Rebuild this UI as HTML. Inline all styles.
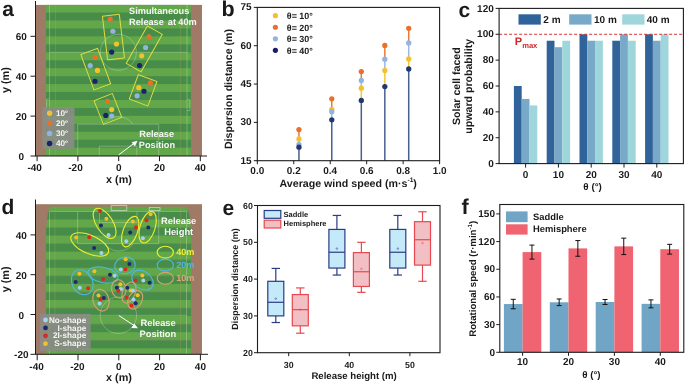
<!DOCTYPE html>
<html><head><meta charset="utf-8"><style>
html,body{margin:0;padding:0;background:#fff;width:685px;height:384px;overflow:hidden}
svg{display:block;will-change:transform}
text{font-family:"Liberation Sans", sans-serif;text-rendering:geometricPrecision}
</style></head><body>
<svg width="685" height="384" viewBox="0 0 685 384">
<defs>
<pattern id="stripeA" patternUnits="userSpaceOnUse" x="0" y="4.6" width="10" height="15.9">
<rect x="0" y="0" width="10" height="7.95" fill="#62a84a"/><rect x="0" y="7.95" width="10" height="7.95" fill="#488c4a"/></pattern>
<pattern id="stripeD" patternUnits="userSpaceOnUse" x="0" y="203.4" width="10" height="16.1">
<rect x="0" y="0" width="10" height="8.05" fill="#62a84a"/><rect x="0" y="8.05" width="10" height="8.05" fill="#488c4a"/></pattern>
</defs>
<text x="2.30" y="16.40" font-size="21" text-anchor="start" fill="#1a1a1a" font-weight="bold" >a</text>
<rect x="36.00" y="4.90" width="166.00" height="151.10" fill="#9f7a66" stroke="none" stroke-width="0" />
<rect x="46.00" y="4.90" width="145.00" height="151.10" fill="url(#stripeA)" stroke="none" stroke-width="0" />
<g stroke="rgba(225,240,220,0.38)" stroke-width="0.8" fill="none">
<line x1="49.5" y1="4.7" x2="49.5" y2="156"/>
<line x1="187" y1="4.7" x2="187" y2="156"/>
<line x1="49.5" y1="52.3" x2="187" y2="52.3"/>
<circle cx="118.3" cy="52.3" r="18"/>
<polyline points="77.7,156 77.7,124.2 158.7,124.2 158.7,156"/>
<polyline points="99.3,156 99.3,146.2 136.8,146.2 136.8,156"/>
<path d="M 103.6 124.2 A 18 18 0 0 1 133 124.2"/>
<polyline points="187,99.3 189.8,99.3 189.8,110.6 187,110.6"/>
<polyline points="49.5,99 46.6,99 46.6,110.3 49.5,110.3"/>
</g>
<line x1="55.5" y1="4.9" x2="55.5" y2="156" stroke="rgba(215,160,100,0.3)" stroke-width="0.8"/>
<line x1="180.3" y1="4.9" x2="180.3" y2="156" stroke="rgba(215,160,100,0.3)" stroke-width="0.8"/>
<rect x="-8.50" y="-22.00" width="17" height="44" fill="none" stroke="#e8e040" stroke-width="0.9" transform="translate(113.45,37.1) rotate(-6.8)"/>
<rect x="-8.55" y="-21.50" width="17.1" height="43" fill="none" stroke="#e8e040" stroke-width="0.9" transform="translate(144.25,48.9) rotate(29.5)"/>
<rect x="-8.90" y="-18.85" width="17.8" height="37.7" fill="none" stroke="#e8e040" stroke-width="0.9" transform="translate(95.75,69.2) rotate(-20.3)"/>
<rect x="-9.90" y="-13.05" width="19.8" height="26.1" fill="none" stroke="#e8e040" stroke-width="0.9" transform="translate(143.1,90.3) rotate(20.3)"/>
<rect x="-9.85" y="-12.80" width="19.7" height="25.6" fill="none" stroke="#e8e040" stroke-width="0.9" transform="translate(107.9,109) rotate(-21.7)"/>
<circle cx="110.20" cy="19.20" r="2.6" fill="#e8702a" stroke="none" stroke-width="0" />
<circle cx="112.90" cy="31.25" r="2.6" fill="#93b3e3" stroke="none" stroke-width="0" />
<circle cx="116.50" cy="44.00" r="2.6" fill="#f2c12e" stroke="none" stroke-width="0" />
<circle cx="111.70" cy="52.10" r="2.6" fill="#18236b" stroke="none" stroke-width="0" />
<circle cx="149.00" cy="36.90" r="2.6" fill="#e8702a" stroke="none" stroke-width="0" />
<circle cx="145.60" cy="47.50" r="2.6" fill="#93b3e3" stroke="none" stroke-width="0" />
<circle cx="141.70" cy="55.80" r="2.6" fill="#f2c12e" stroke="none" stroke-width="0" />
<circle cx="139.60" cy="65.60" r="2.6" fill="#18236b" stroke="none" stroke-width="0" />
<circle cx="95.00" cy="57.30" r="2.6" fill="#e8702a" stroke="none" stroke-width="0" />
<circle cx="90.20" cy="65.60" r="2.6" fill="#93b3e3" stroke="none" stroke-width="0" />
<circle cx="97.50" cy="70.40" r="2.6" fill="#f2c12e" stroke="none" stroke-width="0" />
<circle cx="95.00" cy="81.25" r="2.6" fill="#18236b" stroke="none" stroke-width="0" />
<circle cx="150.40" cy="82.90" r="2.6" fill="#e8702a" stroke="none" stroke-width="0" />
<circle cx="138.75" cy="87.70" r="2.6" fill="#f2c12e" stroke="none" stroke-width="0" />
<circle cx="144.00" cy="91.25" r="2.6" fill="#18236b" stroke="none" stroke-width="0" />
<circle cx="137.10" cy="95.80" r="2.6" fill="#93b3e3" stroke="none" stroke-width="0" />
<circle cx="107.50" cy="101.25" r="2.6" fill="#e8702a" stroke="none" stroke-width="0" />
<circle cx="111.70" cy="109.60" r="2.6" fill="#f2c12e" stroke="none" stroke-width="0" />
<circle cx="105.80" cy="115.40" r="2.6" fill="#18236b" stroke="none" stroke-width="0" />
<circle cx="111.70" cy="116.00" r="2.6" fill="#93b3e3" stroke="none" stroke-width="0" />
<rect x="42.30" y="107.00" width="32.20" height="41.70" fill="rgba(140,140,135,0.88)" stroke="none" stroke-width="0" />
<circle cx="49.60" cy="113.20" r="2.7" fill="#f2c12e" stroke="none" stroke-width="0" />
<text x="56.00" y="116.10" font-size="8.2" text-anchor="start" fill="#f2f2f2" font-weight="bold" >10<tspan font-size="4.6" dy="-3.4" font-style="italic">o</tspan></text>
<circle cx="49.60" cy="123.30" r="2.7" fill="#e8702a" stroke="none" stroke-width="0" />
<text x="56.00" y="126.20" font-size="8.2" text-anchor="start" fill="#f2f2f2" font-weight="bold" >20<tspan font-size="4.6" dy="-3.4" font-style="italic">o</tspan></text>
<circle cx="49.60" cy="133.40" r="2.7" fill="#93b3e3" stroke="none" stroke-width="0" />
<text x="56.00" y="136.30" font-size="8.2" text-anchor="start" fill="#f2f2f2" font-weight="bold" >30<tspan font-size="4.6" dy="-3.4" font-style="italic">o</tspan></text>
<circle cx="49.60" cy="143.50" r="2.7" fill="#18236b" stroke="none" stroke-width="0" />
<text x="56.00" y="146.40" font-size="8.2" text-anchor="start" fill="#f2f2f2" font-weight="bold" >40<tspan font-size="4.6" dy="-3.4" font-style="italic">o</tspan></text>
<text x="129.10" y="14.00" font-size="9.2" text-anchor="start" fill="#f6f6f6" font-weight="bold" >Simultaneous</text>
<text x="129.10" y="25.10" font-size="9.2" text-anchor="start" fill="#f6f6f6" font-weight="bold" >Release</text>
<text x="167.80" y="25.10" font-size="9.2" text-anchor="start" fill="#f6f6f6" font-weight="bold" >at</text>
<text x="178.30" y="25.10" font-size="9.2" text-anchor="start" fill="#f6f6f6" font-weight="bold" >40m</text>
<text x="139.30" y="136.70" font-size="9.2" text-anchor="start" fill="#f6f6f6" font-weight="bold" >Release</text>
<text x="138.80" y="147.70" font-size="9.2" text-anchor="start" fill="#f6f6f6" font-weight="bold" >Position</text>
<line x1="118.5" y1="155" x2="134.5" y2="143" stroke="#fff" stroke-width="1"/>
<path d="M 137.5 140.8 L 131.6 142.3 L 134.9 146.5 Z" fill="#fff"/>
<line x1="35.50" y1="1.00" x2="35.50" y2="156.30" stroke="#1c1c1c" stroke-width="1" />
<line x1="35.50" y1="156.00" x2="207.00" y2="156.00" stroke="#1c1c1c" stroke-width="1" />
<line x1="37.10" y1="156.00" x2="37.10" y2="161.20" stroke="#1c1c1c" stroke-width="1" />
<text x="34.70" y="170.50" font-size="10" text-anchor="middle" fill="#1a1a1a" font-weight="bold" >-40</text>
<line x1="77.90" y1="156.00" x2="77.90" y2="161.20" stroke="#1c1c1c" stroke-width="1" />
<text x="75.50" y="170.50" font-size="10" text-anchor="middle" fill="#1a1a1a" font-weight="bold" >-20</text>
<line x1="118.70" y1="156.00" x2="118.70" y2="161.20" stroke="#1c1c1c" stroke-width="1" />
<text x="118.70" y="170.50" font-size="10" text-anchor="middle" fill="#1a1a1a" font-weight="bold" >0</text>
<line x1="159.50" y1="156.00" x2="159.50" y2="161.20" stroke="#1c1c1c" stroke-width="1" />
<text x="159.50" y="170.50" font-size="10" text-anchor="middle" fill="#1a1a1a" font-weight="bold" >20</text>
<line x1="200.30" y1="156.00" x2="200.30" y2="161.20" stroke="#1c1c1c" stroke-width="1" />
<text x="200.30" y="170.50" font-size="10" text-anchor="middle" fill="#1a1a1a" font-weight="bold" >40</text>
<line x1="30.50" y1="156.00" x2="35.50" y2="156.00" stroke="#1c1c1c" stroke-width="1" />
<text x="21.30" y="160.00" font-size="10" text-anchor="middle" fill="#1a1a1a" font-weight="bold" >0</text>
<line x1="30.50" y1="116.10" x2="35.50" y2="116.10" stroke="#1c1c1c" stroke-width="1" />
<text x="21.30" y="120.10" font-size="10" text-anchor="middle" fill="#1a1a1a" font-weight="bold" >20</text>
<line x1="30.50" y1="76.20" x2="35.50" y2="76.20" stroke="#1c1c1c" stroke-width="1" />
<text x="21.30" y="80.20" font-size="10" text-anchor="middle" fill="#1a1a1a" font-weight="bold" >40</text>
<line x1="30.50" y1="36.30" x2="35.50" y2="36.30" stroke="#1c1c1c" stroke-width="1" />
<text x="21.30" y="40.30" font-size="10" text-anchor="middle" fill="#1a1a1a" font-weight="bold" >60</text>
<text x="119.00" y="182.60" font-size="10.8" text-anchor="middle" fill="#1a1a1a" font-weight="bold" >x (m)</text>
<text transform="translate(9,80.1) rotate(-90)" font-size="10.8" text-anchor="middle" font-weight="bold" fill="#1a1a1a">y (m)</text>
<text x="221.60" y="16.30" font-size="21.5" text-anchor="start" fill="#1a1a1a" font-weight="bold" >b</text>
<line x1="298.96" y1="160.70" x2="298.96" y2="147.16" stroke="#47608f" stroke-width="1.5" />
<line x1="298.96" y1="147.16" x2="298.96" y2="144.35" stroke="#9bb8e6" stroke-width="1.5" />
<line x1="298.96" y1="144.35" x2="298.96" y2="138.98" stroke="#f2c53c" stroke-width="1.5" />
<line x1="298.96" y1="138.98" x2="298.96" y2="129.53" stroke="#e97a38" stroke-width="1.5" />
<circle cx="298.96" cy="129.53" r="2.65" fill="#e8702a" stroke="none" stroke-width="0" />
<circle cx="298.96" cy="138.98" r="2.65" fill="#f2c12e" stroke="none" stroke-width="0" />
<circle cx="298.96" cy="144.35" r="2.65" fill="#93b3e3" stroke="none" stroke-width="0" />
<circle cx="298.96" cy="147.16" r="2.65" fill="#1f3870" stroke="none" stroke-width="0" />
<line x1="331.78" y1="160.70" x2="331.78" y2="119.82" stroke="#47608f" stroke-width="1.5" />
<line x1="331.78" y1="119.82" x2="331.78" y2="111.64" stroke="#9bb8e6" stroke-width="1.5" />
<line x1="331.78" y1="111.64" x2="331.78" y2="109.34" stroke="#f2c53c" stroke-width="1.5" />
<line x1="331.78" y1="109.34" x2="331.78" y2="98.87" stroke="#e97a38" stroke-width="1.5" />
<circle cx="331.78" cy="98.87" r="2.65" fill="#e8702a" stroke="none" stroke-width="0" />
<circle cx="331.78" cy="109.34" r="2.65" fill="#f2c12e" stroke="none" stroke-width="0" />
<circle cx="331.78" cy="111.64" r="2.65" fill="#93b3e3" stroke="none" stroke-width="0" />
<circle cx="331.78" cy="119.82" r="2.65" fill="#1f3870" stroke="none" stroke-width="0" />
<line x1="361.31" y1="160.70" x2="361.31" y2="100.40" stroke="#47608f" stroke-width="1.5" />
<line x1="361.31" y1="100.40" x2="361.31" y2="88.14" stroke="#f2c53c" stroke-width="1.5" />
<line x1="361.31" y1="88.14" x2="361.31" y2="80.47" stroke="#9bb8e6" stroke-width="1.5" />
<line x1="361.31" y1="80.47" x2="361.31" y2="71.53" stroke="#e97a38" stroke-width="1.5" />
<circle cx="361.31" cy="71.53" r="2.65" fill="#e8702a" stroke="none" stroke-width="0" />
<circle cx="361.31" cy="80.47" r="2.65" fill="#93b3e3" stroke="none" stroke-width="0" />
<circle cx="361.31" cy="88.14" r="2.65" fill="#f2c12e" stroke="none" stroke-width="0" />
<circle cx="361.31" cy="100.40" r="2.65" fill="#1f3870" stroke="none" stroke-width="0" />
<line x1="384.83" y1="160.70" x2="384.83" y2="86.60" stroke="#47608f" stroke-width="1.5" />
<line x1="384.83" y1="86.60" x2="384.83" y2="70.51" stroke="#f2c53c" stroke-width="1.5" />
<line x1="384.83" y1="70.51" x2="384.83" y2="59.27" stroke="#9bb8e6" stroke-width="1.5" />
<line x1="384.83" y1="59.27" x2="384.83" y2="45.47" stroke="#e97a38" stroke-width="1.5" />
<circle cx="384.83" cy="45.47" r="2.65" fill="#e8702a" stroke="none" stroke-width="0" />
<circle cx="384.83" cy="59.27" r="2.65" fill="#93b3e3" stroke="none" stroke-width="0" />
<circle cx="384.83" cy="70.51" r="2.65" fill="#f2c12e" stroke="none" stroke-width="0" />
<circle cx="384.83" cy="86.60" r="2.65" fill="#1f3870" stroke="none" stroke-width="0" />
<line x1="408.71" y1="160.70" x2="408.71" y2="68.98" stroke="#47608f" stroke-width="1.5" />
<line x1="408.71" y1="68.98" x2="408.71" y2="59.01" stroke="#f2c53c" stroke-width="1.5" />
<line x1="408.71" y1="59.01" x2="408.71" y2="42.91" stroke="#9bb8e6" stroke-width="1.5" />
<line x1="408.71" y1="42.91" x2="408.71" y2="28.35" stroke="#e97a38" stroke-width="1.5" />
<circle cx="408.71" cy="28.35" r="2.65" fill="#e8702a" stroke="none" stroke-width="0" />
<circle cx="408.71" cy="42.91" r="2.65" fill="#93b3e3" stroke="none" stroke-width="0" />
<circle cx="408.71" cy="59.01" r="2.65" fill="#f2c12e" stroke="none" stroke-width="0" />
<circle cx="408.71" cy="68.98" r="2.65" fill="#1f3870" stroke="none" stroke-width="0" />
<rect x="257.3" y="7.4" width="182.3" height="153.29999999999998" fill="none" stroke="#1c1c1c" stroke-width="1.1"/>
<line x1="257.30" y1="160.70" x2="257.30" y2="164.20" stroke="#1c1c1c" stroke-width="1" />
<text x="257.30" y="173.90" font-size="10" text-anchor="middle" fill="#1a1a1a" font-weight="bold" >0.0</text>
<line x1="293.76" y1="160.70" x2="293.76" y2="164.20" stroke="#1c1c1c" stroke-width="1" />
<text x="293.76" y="173.90" font-size="10" text-anchor="middle" fill="#1a1a1a" font-weight="bold" >0.2</text>
<line x1="330.22" y1="160.70" x2="330.22" y2="164.20" stroke="#1c1c1c" stroke-width="1" />
<text x="330.22" y="173.90" font-size="10" text-anchor="middle" fill="#1a1a1a" font-weight="bold" >0.4</text>
<line x1="366.68" y1="160.70" x2="366.68" y2="164.20" stroke="#1c1c1c" stroke-width="1" />
<text x="366.68" y="173.90" font-size="10" text-anchor="middle" fill="#1a1a1a" font-weight="bold" >0.6</text>
<line x1="403.14" y1="160.70" x2="403.14" y2="164.20" stroke="#1c1c1c" stroke-width="1" />
<text x="403.14" y="173.90" font-size="10" text-anchor="middle" fill="#1a1a1a" font-weight="bold" >0.8</text>
<line x1="439.60" y1="160.70" x2="439.60" y2="164.20" stroke="#1c1c1c" stroke-width="1" />
<text x="439.60" y="173.90" font-size="10" text-anchor="middle" fill="#1a1a1a" font-weight="bold" >1.0</text>
<line x1="253.80" y1="160.70" x2="257.30" y2="160.70" stroke="#1c1c1c" stroke-width="1" />
<text x="251.70" y="163.70" font-size="10" text-anchor="end" fill="#1a1a1a" font-weight="bold" >15</text>
<line x1="253.80" y1="122.38" x2="257.30" y2="122.38" stroke="#1c1c1c" stroke-width="1" />
<text x="251.70" y="125.38" font-size="10" text-anchor="end" fill="#1a1a1a" font-weight="bold" >30</text>
<line x1="253.80" y1="84.05" x2="257.30" y2="84.05" stroke="#1c1c1c" stroke-width="1" />
<text x="251.70" y="87.05" font-size="10" text-anchor="end" fill="#1a1a1a" font-weight="bold" >45</text>
<line x1="253.80" y1="45.73" x2="257.30" y2="45.73" stroke="#1c1c1c" stroke-width="1" />
<text x="251.70" y="48.73" font-size="10" text-anchor="end" fill="#1a1a1a" font-weight="bold" >60</text>
<line x1="253.80" y1="7.40" x2="257.30" y2="7.40" stroke="#1c1c1c" stroke-width="1" />
<text x="251.70" y="10.40" font-size="10" text-anchor="end" fill="#1a1a1a" font-weight="bold" >75</text>
<text x="348.20" y="186.60" font-size="10.65" text-anchor="middle" fill="#1a1a1a" font-weight="bold" >Average wind speed (m·s<tspan font-size="6.6" dy="-4.2">-1</tspan><tspan dy="4.2">)</tspan></text>
<text transform="translate(232,89) rotate(-90)" font-size="10.6" text-anchor="middle" font-weight="bold" fill="#1a1a1a">Dispersion distance (m)</text>
<circle cx="275.40" cy="15.70" r="2.6" fill="#f2c12e" stroke="none" stroke-width="0" />
<text x="286.80" y="19.00" font-size="8.95" text-anchor="start" fill="#1a1a1a" font-weight="bold" >θ= 10°</text>
<circle cx="275.40" cy="27.25" r="2.6" fill="#e8702a" stroke="none" stroke-width="0" />
<text x="286.80" y="30.55" font-size="8.95" text-anchor="start" fill="#1a1a1a" font-weight="bold" >θ= 20°</text>
<circle cx="275.40" cy="38.80" r="2.6" fill="#93b3e3" stroke="none" stroke-width="0" />
<text x="286.80" y="42.10" font-size="8.95" text-anchor="start" fill="#1a1a1a" font-weight="bold" >θ= 30°</text>
<circle cx="275.40" cy="50.35" r="2.6" fill="#161e68" stroke="none" stroke-width="0" />
<text x="286.80" y="53.65" font-size="8.95" text-anchor="start" fill="#1a1a1a" font-weight="bold" >θ= 40°</text>
<text x="458.60" y="16.80" font-size="21" text-anchor="start" fill="#1a1a1a" font-weight="bold" >c</text>
<rect x="513.90" y="86.00" width="7.80" height="77.60" fill="#2f6399" stroke="none" stroke-width="0" />
<rect x="521.70" y="98.93" width="7.80" height="64.67" fill="#78a9c9" stroke="none" stroke-width="0" />
<rect x="529.50" y="105.40" width="7.80" height="58.20" fill="#9ed6dc" stroke="none" stroke-width="0" />
<line x1="525.60" y1="163.60" x2="525.60" y2="167.60" stroke="#1c1c1c" stroke-width="1" />
<text x="525.60" y="177.80" font-size="10" text-anchor="middle" fill="#1a1a1a" font-weight="bold" >0</text>
<rect x="546.70" y="40.73" width="7.80" height="122.87" fill="#2f6399" stroke="none" stroke-width="0" />
<rect x="554.50" y="47.20" width="7.80" height="116.40" fill="#78a9c9" stroke="none" stroke-width="0" />
<rect x="562.30" y="40.73" width="7.80" height="122.87" fill="#9ed6dc" stroke="none" stroke-width="0" />
<line x1="558.40" y1="163.60" x2="558.40" y2="167.60" stroke="#1c1c1c" stroke-width="1" />
<text x="558.40" y="177.80" font-size="10" text-anchor="middle" fill="#1a1a1a" font-weight="bold" >10</text>
<rect x="579.50" y="34.27" width="7.80" height="129.33" fill="#2f6399" stroke="none" stroke-width="0" />
<rect x="587.30" y="40.73" width="7.80" height="122.87" fill="#78a9c9" stroke="none" stroke-width="0" />
<rect x="595.10" y="40.73" width="7.80" height="122.87" fill="#9ed6dc" stroke="none" stroke-width="0" />
<line x1="591.20" y1="163.60" x2="591.20" y2="167.60" stroke="#1c1c1c" stroke-width="1" />
<text x="591.20" y="177.80" font-size="10" text-anchor="middle" fill="#1a1a1a" font-weight="bold" >20</text>
<rect x="612.30" y="40.73" width="7.80" height="122.87" fill="#2f6399" stroke="none" stroke-width="0" />
<rect x="620.10" y="34.27" width="7.80" height="129.33" fill="#78a9c9" stroke="none" stroke-width="0" />
<rect x="627.90" y="40.73" width="7.80" height="122.87" fill="#9ed6dc" stroke="none" stroke-width="0" />
<line x1="624.00" y1="163.60" x2="624.00" y2="167.60" stroke="#1c1c1c" stroke-width="1" />
<text x="624.00" y="177.80" font-size="10" text-anchor="middle" fill="#1a1a1a" font-weight="bold" >30</text>
<rect x="645.10" y="34.27" width="7.80" height="129.33" fill="#2f6399" stroke="none" stroke-width="0" />
<rect x="652.90" y="40.73" width="7.80" height="122.87" fill="#78a9c9" stroke="none" stroke-width="0" />
<rect x="660.70" y="34.27" width="7.80" height="129.33" fill="#9ed6dc" stroke="none" stroke-width="0" />
<line x1="656.80" y1="163.60" x2="656.80" y2="167.60" stroke="#1c1c1c" stroke-width="1" />
<text x="656.80" y="177.80" font-size="10" text-anchor="middle" fill="#1a1a1a" font-weight="bold" >40</text>
<line x1="499.10" y1="34.27" x2="683.40" y2="34.27" stroke="#d83434" stroke-width="1.0" stroke-dasharray="3,2"/>
<rect x="499.1" y="8.4" width="184.29999999999995" height="155.2" fill="none" stroke="#1c1c1c" stroke-width="1.1"/>
<line x1="495.60" y1="163.60" x2="499.10" y2="163.60" stroke="#1c1c1c" stroke-width="1" />
<text x="493.80" y="166.70" font-size="10" text-anchor="end" fill="#1a1a1a" font-weight="bold" >0</text>
<line x1="495.60" y1="137.73" x2="499.10" y2="137.73" stroke="#1c1c1c" stroke-width="1" />
<text x="493.80" y="140.83" font-size="10" text-anchor="end" fill="#1a1a1a" font-weight="bold" >20</text>
<line x1="495.60" y1="111.87" x2="499.10" y2="111.87" stroke="#1c1c1c" stroke-width="1" />
<text x="493.80" y="114.97" font-size="10" text-anchor="end" fill="#1a1a1a" font-weight="bold" >40</text>
<line x1="495.60" y1="86.00" x2="499.10" y2="86.00" stroke="#1c1c1c" stroke-width="1" />
<text x="493.80" y="89.10" font-size="10" text-anchor="end" fill="#1a1a1a" font-weight="bold" >60</text>
<line x1="495.60" y1="60.13" x2="499.10" y2="60.13" stroke="#1c1c1c" stroke-width="1" />
<text x="493.80" y="63.23" font-size="10" text-anchor="end" fill="#1a1a1a" font-weight="bold" >80</text>
<line x1="495.60" y1="34.27" x2="499.10" y2="34.27" stroke="#1c1c1c" stroke-width="1" />
<text x="493.80" y="37.37" font-size="10" text-anchor="end" fill="#1a1a1a" font-weight="bold" >100</text>
<line x1="495.60" y1="8.40" x2="499.10" y2="8.40" stroke="#1c1c1c" stroke-width="1" />
<text x="493.80" y="11.50" font-size="10" text-anchor="end" fill="#1a1a1a" font-weight="bold" >120</text>
<text x="514.80" y="45.30" font-size="11" text-anchor="start" fill="#d42828" font-weight="bold" >P<tspan font-size="7.6" dy="2.4">max</tspan></text>
<rect x="518.50" y="14.30" width="22.30" height="10.30" fill="#2f6399" stroke="none" stroke-width="0" />
<text x="543.30" y="23.30" font-size="10" text-anchor="start" fill="#1a1a1a" font-weight="bold" >2 m</text>
<rect x="569.20" y="14.30" width="22.30" height="10.30" fill="#78a9c9" stroke="none" stroke-width="0" />
<text x="594.00" y="23.30" font-size="10" text-anchor="start" fill="#1a1a1a" font-weight="bold" >10 m</text>
<rect x="622.20" y="14.30" width="22.30" height="10.30" fill="#9ed6dc" stroke="none" stroke-width="0" />
<text x="646.80" y="23.30" font-size="10" text-anchor="start" fill="#1a1a1a" font-weight="bold" >40 m</text>
<text x="592.60" y="189.90" font-size="9.8" text-anchor="middle" fill="#1a1a1a" font-weight="bold" >θ (°)</text>
<text transform="translate(460,86.2) rotate(-90)" font-size="10.6" text-anchor="middle" font-weight="bold" fill="#1a1a1a">Solar cell faced</text>
<text transform="translate(471.6,86.3) rotate(-90)" font-size="10.6" text-anchor="middle" font-weight="bold" fill="#1a1a1a">upward probability</text>
<text x="1.60" y="213.90" font-size="21" text-anchor="start" fill="#1a1a1a" font-weight="bold" >d</text>
<rect x="36.00" y="204.20" width="166.00" height="150.10" fill="#9f7a66" stroke="none" stroke-width="0" />
<path d="M 46 354.3 L 46 232 Q 47 212 50.2 206.8 L 186.8 206.8 Q 190 212 191 232 L 191 354.3 Z" fill="url(#stripeD)"/>
<g stroke="rgba(225,240,220,0.38)" stroke-width="0.8" fill="none">
<line x1="49.5" y1="211.5" x2="49.5" y2="354.3"/>
<line x1="186.5" y1="211.5" x2="186.5" y2="354.3"/>
<line x1="49.5" y1="211.5" x2="186.5" y2="211.5"/>
<line x1="49.5" y1="315.3" x2="186.5" y2="315.3"/>
<circle cx="118.4" cy="315.3" r="18.2"/>
<polyline points="77.6,211.5 77.6,243.6 158.7,243.6 158.7,211.5"/>
<polyline points="99.5,211.5 99.5,222.6 137,222.6 137,211.5"/>
<path d="M 104.2 243.6 A 18 18 0 0 0 133.4 243.6"/>
<rect x="111.2" y="205.6" width="15.6" height="4.8" stroke="rgba(230,235,230,0.7)"/>
<rect x="149.2" y="207.6" width="10.8" height="3" stroke="rgba(230,235,230,0.7)"/>
<line x1="55" y1="207" x2="55" y2="354.3" stroke="rgba(215,160,100,0.3)" stroke-width="0.8"/>
<line x1="180.6" y1="207" x2="180.6" y2="354.3" stroke="rgba(215,160,100,0.3)" stroke-width="0.8"/>
</g>
<ellipse cx="0" cy="0" rx="17" ry="8.3" fill="none" stroke="#eef032" stroke-width="1.1" transform="translate(104.6,223.4) rotate(58)"/>
<ellipse cx="0" cy="0" rx="20.3" ry="9.1" fill="none" stroke="#eef032" stroke-width="1.1" transform="translate(89.7,244.5) rotate(24)"/>
<ellipse cx="0" cy="0" rx="16" ry="7.2" fill="none" stroke="#eef032" stroke-width="1.1" transform="translate(130.2,231.6) rotate(-70)"/>
<ellipse cx="0" cy="0" rx="16.3" ry="7.6" fill="none" stroke="#eef032" stroke-width="1.1" transform="translate(147.6,227.2) rotate(-73)"/>
<ellipse cx="0" cy="0" rx="13.0" ry="10.3" fill="none" stroke="#4db8e2" stroke-width="1.1" transform="translate(82.3,282.3) rotate(62)"/>
<ellipse cx="0" cy="0" rx="15.3" ry="7.6" fill="none" stroke="#4db8e2" stroke-width="1.1" transform="translate(102.9,275.0) rotate(12)"/>
<ellipse cx="0" cy="0" rx="10.3" ry="8.2" fill="none" stroke="#4db8e2" stroke-width="1.1" transform="translate(125,265.4) rotate(-10)"/>
<ellipse cx="0" cy="0" rx="11.8" ry="8.6" fill="none" stroke="#4db8e2" stroke-width="1.1" transform="translate(142.5,280.1) rotate(38)"/>
<ellipse cx="0" cy="0" rx="11" ry="8" fill="none" stroke="#d9a272" stroke-width="1.1" transform="translate(101,300.1) rotate(75)"/>
<ellipse cx="0" cy="0" rx="9.2" ry="7.2" fill="none" stroke="#d9a272" stroke-width="1.1" transform="translate(118.8,288.9) rotate(80)"/>
<ellipse cx="0" cy="0" rx="11" ry="6.3" fill="none" stroke="#d9a272" stroke-width="1.1" transform="translate(128.9,292.5) rotate(-68)"/>
<ellipse cx="0" cy="0" rx="9.8" ry="6.8" fill="none" stroke="#d9a272" stroke-width="1.1" transform="translate(135.2,299.8) rotate(-62)"/>
<circle cx="100.00" cy="210.90" r="2.0" fill="#d92a20" stroke="none" stroke-width="0" />
<circle cx="106.40" cy="218.80" r="2.0" fill="#f2c02a" stroke="none" stroke-width="0" />
<circle cx="101.00" cy="225.50" r="2.0" fill="#1b2a6b" stroke="none" stroke-width="0" />
<circle cx="108.50" cy="235.10" r="2.0" fill="#a8d0f0" stroke="none" stroke-width="0" />
<circle cx="76.20" cy="237.60" r="2.0" fill="#f2c02a" stroke="none" stroke-width="0" />
<circle cx="89.30" cy="237.20" r="2.0" fill="#d92a20" stroke="none" stroke-width="0" />
<circle cx="94.10" cy="248.00" r="2.0" fill="#1b2a6b" stroke="none" stroke-width="0" />
<circle cx="101.40" cy="253.00" r="2.0" fill="#a8d0f0" stroke="none" stroke-width="0" />
<circle cx="132.90" cy="221.50" r="2.0" fill="#f2c02a" stroke="none" stroke-width="0" />
<circle cx="136.00" cy="227.20" r="2.0" fill="#d92a20" stroke="none" stroke-width="0" />
<circle cx="130.20" cy="232.40" r="2.0" fill="#1b2a6b" stroke="none" stroke-width="0" />
<circle cx="126.25" cy="241.30" r="2.0" fill="#a8d0f0" stroke="none" stroke-width="0" />
<circle cx="150.60" cy="214.25" r="2.0" fill="#f2c02a" stroke="none" stroke-width="0" />
<circle cx="146.50" cy="220.30" r="2.0" fill="#d92a20" stroke="none" stroke-width="0" />
<circle cx="148.30" cy="227.60" r="2.0" fill="#1b2a6b" stroke="none" stroke-width="0" />
<circle cx="142.90" cy="238.20" r="2.0" fill="#a8d0f0" stroke="none" stroke-width="0" />
<circle cx="79.40" cy="273.75" r="2.0" fill="#f2c02a" stroke="none" stroke-width="0" />
<circle cx="75.60" cy="282.10" r="2.0" fill="#1b2a6b" stroke="none" stroke-width="0" />
<circle cx="79.80" cy="287.70" r="2.0" fill="#a8d0f0" stroke="none" stroke-width="0" />
<circle cx="88.10" cy="288.30" r="2.0" fill="#d92a20" stroke="none" stroke-width="0" />
<circle cx="94.40" cy="271.25" r="2.0" fill="#f2c02a" stroke="none" stroke-width="0" />
<circle cx="110.00" cy="274.80" r="2.0" fill="#1b2a6b" stroke="none" stroke-width="0" />
<circle cx="114.60" cy="275.80" r="2.0" fill="#a8d0f0" stroke="none" stroke-width="0" />
<circle cx="103.10" cy="279.00" r="2.0" fill="#d92a20" stroke="none" stroke-width="0" />
<circle cx="125.60" cy="259.20" r="2.0" fill="#f2c02a" stroke="none" stroke-width="0" />
<circle cx="129.40" cy="264.00" r="2.0" fill="#1b2a6b" stroke="none" stroke-width="0" />
<circle cx="120.80" cy="269.60" r="2.0" fill="#a8d0f0" stroke="none" stroke-width="0" />
<circle cx="125.40" cy="269.20" r="2.0" fill="#d92a20" stroke="none" stroke-width="0" />
<circle cx="142.30" cy="275.40" r="2.0" fill="#f2c02a" stroke="none" stroke-width="0" />
<circle cx="135.40" cy="280.40" r="2.0" fill="#d92a20" stroke="none" stroke-width="0" />
<circle cx="143.30" cy="280.40" r="2.0" fill="#a8d0f0" stroke="none" stroke-width="0" />
<circle cx="149.60" cy="282.70" r="2.0" fill="#1b2a6b" stroke="none" stroke-width="0" />
<circle cx="98.50" cy="295.60" r="2.0" fill="#f2c02a" stroke="none" stroke-width="0" />
<circle cx="103.75" cy="298.10" r="2.0" fill="#1b2a6b" stroke="none" stroke-width="0" />
<circle cx="100.60" cy="299.40" r="2.0" fill="#d92a20" stroke="none" stroke-width="0" />
<circle cx="99.60" cy="303.50" r="2.0" fill="#a8d0f0" stroke="none" stroke-width="0" />
<circle cx="120.40" cy="284.20" r="2.0" fill="#f2c02a" stroke="none" stroke-width="0" />
<circle cx="116.90" cy="287.70" r="2.0" fill="#1b2a6b" stroke="none" stroke-width="0" />
<circle cx="121.00" cy="289.00" r="2.0" fill="#a8d0f0" stroke="none" stroke-width="0" />
<circle cx="118.30" cy="290.80" r="2.0" fill="#d92a20" stroke="none" stroke-width="0" />
<circle cx="127.30" cy="287.70" r="2.0" fill="#1b2a6b" stroke="none" stroke-width="0" />
<circle cx="130.80" cy="290.40" r="2.0" fill="#f2c02a" stroke="none" stroke-width="0" />
<circle cx="132.90" cy="290.40" r="2.0" fill="#a8d0f0" stroke="none" stroke-width="0" />
<circle cx="126.70" cy="297.70" r="2.0" fill="#d92a20" stroke="none" stroke-width="0" />
<circle cx="137.70" cy="295.20" r="2.0" fill="#f2c02a" stroke="none" stroke-width="0" />
<circle cx="133.50" cy="299.40" r="2.0" fill="#a8d0f0" stroke="none" stroke-width="0" />
<circle cx="135.60" cy="303.30" r="2.0" fill="#1b2a6b" stroke="none" stroke-width="0" />
<circle cx="131.50" cy="305.40" r="2.0" fill="#d92a20" stroke="none" stroke-width="0" />
<ellipse cx="165.3" cy="252.2" rx="8.1" ry="5.9" fill="none" stroke="#eef032" stroke-width="1.1"/>
<text x="176.20" y="254.90" font-size="9.1" text-anchor="start" fill="#eef032" font-weight="bold" >40m</text>
<ellipse cx="165.3" cy="265" rx="8.1" ry="5.9" fill="none" stroke="#4db8e2" stroke-width="1.1"/>
<text x="176.20" y="267.70" font-size="9.1" text-anchor="start" fill="#4db8e2" font-weight="bold" >20m</text>
<ellipse cx="165.3" cy="278.3" rx="8.1" ry="5.9" fill="none" stroke="#d9a272" stroke-width="1.1"/>
<text x="176.20" y="281.00" font-size="9.1" text-anchor="start" fill="#e0a878" font-weight="bold" >10m</text>
<text x="178.70" y="224.00" font-size="9.3" text-anchor="middle" fill="#f6f6f6" font-weight="bold" >Release</text>
<text x="178.70" y="235.00" font-size="9.3" text-anchor="middle" fill="#f6f6f6" font-weight="bold" >Height</text>
<text x="140.50" y="325.80" font-size="9.3" text-anchor="start" fill="#f6f6f6" font-weight="bold" >Release</text>
<text x="139.50" y="337.20" font-size="9.3" text-anchor="start" fill="#f6f6f6" font-weight="bold" >Position</text>
<line x1="118.8" y1="315.5" x2="134.5" y2="325.8" stroke="#fff" stroke-width="1"/>
<path d="M 138 328.2 L 131.4 327.9 L 134.2 323.4 Z" fill="#fff"/>
<rect x="40.00" y="313.90" width="50.60" height="36.90" fill="rgba(140,140,135,0.88)" stroke="none" stroke-width="0" />
<circle cx="45.50" cy="320.00" r="2.4" fill="#a8d0f0" stroke="none" stroke-width="0" />
<text x="86.20" y="322.60" font-size="8.2" text-anchor="end" fill="#f4f4f4" font-weight="bold" >No-shape</text>
<circle cx="45.50" cy="327.90" r="2.4" fill="#1b2a6b" stroke="none" stroke-width="0" />
<text x="86.20" y="330.50" font-size="8.2" text-anchor="end" fill="#f4f4f4" font-weight="bold" >I-shape</text>
<circle cx="45.50" cy="335.80" r="2.4" fill="#d92a20" stroke="none" stroke-width="0" />
<text x="86.20" y="338.40" font-size="8.2" text-anchor="end" fill="#f4f4f4" font-weight="bold" >2I-shape</text>
<circle cx="45.50" cy="343.70" r="2.4" fill="#f2c02a" stroke="none" stroke-width="0" />
<text x="86.20" y="346.30" font-size="8.2" text-anchor="end" fill="#f4f4f4" font-weight="bold" >S-shape</text>
<line x1="35.50" y1="199.50" x2="35.50" y2="354.60" stroke="#1c1c1c" stroke-width="1" />
<line x1="35.50" y1="354.30" x2="208.00" y2="354.30" stroke="#1c1c1c" stroke-width="1" />
<line x1="37.20" y1="354.30" x2="37.20" y2="360.30" stroke="#1c1c1c" stroke-width="1" />
<text x="36.60" y="370.20" font-size="10" text-anchor="middle" fill="#1a1a1a" font-weight="bold" >-40</text>
<line x1="78.00" y1="354.30" x2="78.00" y2="360.30" stroke="#1c1c1c" stroke-width="1" />
<text x="77.40" y="370.20" font-size="10" text-anchor="middle" fill="#1a1a1a" font-weight="bold" >-20</text>
<line x1="118.80" y1="354.30" x2="118.80" y2="360.30" stroke="#1c1c1c" stroke-width="1" />
<text x="118.80" y="370.20" font-size="10" text-anchor="middle" fill="#1a1a1a" font-weight="bold" >0</text>
<line x1="159.60" y1="354.30" x2="159.60" y2="360.30" stroke="#1c1c1c" stroke-width="1" />
<text x="159.60" y="370.20" font-size="10" text-anchor="middle" fill="#1a1a1a" font-weight="bold" >20</text>
<line x1="200.40" y1="354.30" x2="200.40" y2="360.30" stroke="#1c1c1c" stroke-width="1" />
<text x="200.40" y="370.20" font-size="10" text-anchor="middle" fill="#1a1a1a" font-weight="bold" >40</text>
<line x1="30.50" y1="354.30" x2="35.50" y2="354.30" stroke="#1c1c1c" stroke-width="1" />
<text x="21.30" y="358.30" font-size="10" text-anchor="middle" fill="#1a1a1a" font-weight="bold" >-20</text>
<line x1="30.50" y1="314.50" x2="35.50" y2="314.50" stroke="#1c1c1c" stroke-width="1" />
<text x="21.30" y="318.50" font-size="10" text-anchor="middle" fill="#1a1a1a" font-weight="bold" >0</text>
<line x1="30.50" y1="274.70" x2="35.50" y2="274.70" stroke="#1c1c1c" stroke-width="1" />
<text x="21.30" y="278.70" font-size="10" text-anchor="middle" fill="#1a1a1a" font-weight="bold" >20</text>
<line x1="30.50" y1="234.90" x2="35.50" y2="234.90" stroke="#1c1c1c" stroke-width="1" />
<text x="21.30" y="238.90" font-size="10" text-anchor="middle" fill="#1a1a1a" font-weight="bold" >40</text>
<text x="119.00" y="380.50" font-size="10.8" text-anchor="middle" fill="#1a1a1a" font-weight="bold" >x (m)</text>
<text transform="translate(8.8,279.4) rotate(-90)" font-size="10.8" text-anchor="middle" font-weight="bold" fill="#1a1a1a">y (m)</text>
<text x="222.40" y="214.50" font-size="21" text-anchor="start" fill="#1a1a1a" font-weight="bold" >e</text>
<line x1="275.80" y1="268.43" x2="275.80" y2="281.31" stroke="#2b3b84" stroke-width="1.2" />
<line x1="275.80" y1="315.90" x2="275.80" y2="322.52" stroke="#2b3b84" stroke-width="1.2" />
<line x1="271.60" y1="268.43" x2="280.00" y2="268.43" stroke="#2b3b84" stroke-width="1.2" />
<line x1="271.60" y1="322.52" x2="280.00" y2="322.52" stroke="#2b3b84" stroke-width="1.2" />
<rect x="267.80" y="281.31" width="16.00" height="34.59" fill="#c4e9f9" stroke="#2b3b84" stroke-width="1.2" />
<line x1="267.80" y1="302.28" x2="283.80" y2="302.28" stroke="#2b3b84" stroke-width="1.2" />
<circle cx="275.80" cy="298.60" r="0.8" fill="none" stroke="#2b3b84" stroke-width="0.5" />
<line x1="300.30" y1="287.93" x2="300.30" y2="294.56" stroke="#e8484f" stroke-width="1.2" />
<line x1="300.30" y1="325.84" x2="300.30" y2="333.20" stroke="#e8484f" stroke-width="1.2" />
<line x1="296.10" y1="287.93" x2="304.50" y2="287.93" stroke="#e8484f" stroke-width="1.2" />
<line x1="296.10" y1="333.20" x2="304.50" y2="333.20" stroke="#e8484f" stroke-width="1.2" />
<rect x="292.30" y="294.56" width="16.00" height="31.28" fill="#f2bfc4" stroke="#e8484f" stroke-width="1.2" />
<line x1="292.30" y1="309.64" x2="308.30" y2="309.64" stroke="#e8484f" stroke-width="1.2" />
<circle cx="300.30" cy="309.64" r="0.8" fill="none" stroke="#e8484f" stroke-width="0.5" />
<line x1="336.90" y1="215.44" x2="336.90" y2="229.42" stroke="#2b3b84" stroke-width="1.2" />
<line x1="336.90" y1="268.06" x2="336.90" y2="275.05" stroke="#2b3b84" stroke-width="1.2" />
<line x1="332.70" y1="215.44" x2="341.10" y2="215.44" stroke="#2b3b84" stroke-width="1.2" />
<line x1="332.70" y1="275.05" x2="341.10" y2="275.05" stroke="#2b3b84" stroke-width="1.2" />
<rect x="328.90" y="229.42" width="16.00" height="38.64" fill="#c4e9f9" stroke="#2b3b84" stroke-width="1.2" />
<line x1="328.90" y1="252.24" x2="344.90" y2="252.24" stroke="#2b3b84" stroke-width="1.2" />
<circle cx="336.90" cy="248.56" r="0.8" fill="none" stroke="#2b3b84" stroke-width="0.5" />
<line x1="361.40" y1="242.30" x2="361.40" y2="252.60" stroke="#e8484f" stroke-width="1.2" />
<line x1="361.40" y1="286.46" x2="361.40" y2="292.35" stroke="#e8484f" stroke-width="1.2" />
<line x1="357.20" y1="242.30" x2="365.60" y2="242.30" stroke="#e8484f" stroke-width="1.2" />
<line x1="357.20" y1="292.35" x2="365.60" y2="292.35" stroke="#e8484f" stroke-width="1.2" />
<rect x="353.40" y="252.60" width="16.00" height="33.86" fill="#f2bfc4" stroke="#e8484f" stroke-width="1.2" />
<line x1="353.40" y1="271.74" x2="369.40" y2="271.74" stroke="#e8484f" stroke-width="1.2" />
<circle cx="361.40" cy="268.80" r="0.8" fill="none" stroke="#e8484f" stroke-width="0.5" />
<line x1="397.80" y1="215.44" x2="397.80" y2="229.42" stroke="#2b3b84" stroke-width="1.2" />
<line x1="397.80" y1="268.06" x2="397.80" y2="275.05" stroke="#2b3b84" stroke-width="1.2" />
<line x1="393.60" y1="215.44" x2="402.00" y2="215.44" stroke="#2b3b84" stroke-width="1.2" />
<line x1="393.60" y1="275.05" x2="402.00" y2="275.05" stroke="#2b3b84" stroke-width="1.2" />
<rect x="389.80" y="229.42" width="16.00" height="38.64" fill="#c4e9f9" stroke="#2b3b84" stroke-width="1.2" />
<line x1="389.80" y1="252.24" x2="405.80" y2="252.24" stroke="#2b3b84" stroke-width="1.2" />
<circle cx="397.80" cy="248.56" r="0.8" fill="none" stroke="#2b3b84" stroke-width="0.5" />
<line x1="422.50" y1="211.76" x2="422.50" y2="221.69" stroke="#e8484f" stroke-width="1.2" />
<line x1="422.50" y1="265.12" x2="422.50" y2="281.31" stroke="#e8484f" stroke-width="1.2" />
<line x1="418.30" y1="211.76" x2="426.70" y2="211.76" stroke="#e8484f" stroke-width="1.2" />
<line x1="418.30" y1="281.31" x2="426.70" y2="281.31" stroke="#e8484f" stroke-width="1.2" />
<rect x="414.50" y="221.69" width="16.00" height="43.42" fill="#f2bfc4" stroke="#e8484f" stroke-width="1.2" />
<line x1="414.50" y1="239.72" x2="430.50" y2="239.72" stroke="#e8484f" stroke-width="1.2" />
<circle cx="422.50" cy="243.04" r="0.8" fill="none" stroke="#e8484f" stroke-width="0.5" />
<rect x="257.5" y="205.5" width="182.5" height="147.2" fill="none" stroke="#1c1c1c" stroke-width="1.1"/>
<line x1="288.70" y1="352.70" x2="288.70" y2="356.20" stroke="#1c1c1c" stroke-width="1" />
<text x="288.70" y="368.20" font-size="8.8" text-anchor="middle" fill="#1a1a1a" font-weight="bold" >30</text>
<line x1="349.30" y1="352.70" x2="349.30" y2="356.20" stroke="#1c1c1c" stroke-width="1" />
<text x="349.30" y="368.20" font-size="8.8" text-anchor="middle" fill="#1a1a1a" font-weight="bold" >40</text>
<line x1="409.90" y1="352.70" x2="409.90" y2="356.20" stroke="#1c1c1c" stroke-width="1" />
<text x="409.90" y="368.20" font-size="8.8" text-anchor="middle" fill="#1a1a1a" font-weight="bold" >50</text>
<line x1="254.00" y1="352.70" x2="257.50" y2="352.70" stroke="#1c1c1c" stroke-width="1" />
<text x="252.90" y="355.80" font-size="8.8" text-anchor="end" fill="#1a1a1a" font-weight="bold" >20</text>
<line x1="254.00" y1="315.90" x2="257.50" y2="315.90" stroke="#1c1c1c" stroke-width="1" />
<text x="252.90" y="319.00" font-size="8.8" text-anchor="end" fill="#1a1a1a" font-weight="bold" >30</text>
<line x1="254.00" y1="279.10" x2="257.50" y2="279.10" stroke="#1c1c1c" stroke-width="1" />
<text x="252.90" y="282.20" font-size="8.8" text-anchor="end" fill="#1a1a1a" font-weight="bold" >40</text>
<line x1="254.00" y1="242.30" x2="257.50" y2="242.30" stroke="#1c1c1c" stroke-width="1" />
<text x="252.90" y="245.40" font-size="8.8" text-anchor="end" fill="#1a1a1a" font-weight="bold" >50</text>
<line x1="254.00" y1="205.50" x2="257.50" y2="205.50" stroke="#1c1c1c" stroke-width="1" />
<text x="252.90" y="208.60" font-size="8.8" text-anchor="end" fill="#1a1a1a" font-weight="bold" >60</text>
<text x="354.10" y="378.80" font-size="9.6" text-anchor="middle" fill="#1a1a1a" font-weight="bold" >Release height (m)</text>
<text transform="translate(238,279) rotate(-90)" font-size="8.95" text-anchor="middle" font-weight="bold" fill="#1a1a1a">Dispersion distance (m)</text>
<rect x="264.20" y="210.50" width="16.60" height="7.80" fill="#c4e9f9" stroke="#2b3b84" stroke-width="1.2" />
<rect x="264.20" y="220.20" width="16.60" height="7.80" fill="#f2bfc4" stroke="#e8484f" stroke-width="1.2" />
<text x="283.60" y="216.80" font-size="7.5" text-anchor="start" fill="#1a1a1a" font-weight="bold" >Saddle</text>
<text x="283.60" y="226.40" font-size="7.5" text-anchor="start" fill="#1a1a1a" font-weight="bold" >Hemisphere</text>
<text x="461.40" y="213.50" font-size="21.5" text-anchor="start" fill="#1a1a1a" font-weight="bold" >f</text>
<rect x="503.90" y="304.04" width="18.70" height="48.26" fill="#70a5c6" stroke="none" stroke-width="0" />
<rect x="522.60" y="252.09" width="18.70" height="100.21" fill="#ef6470" stroke="none" stroke-width="0" />
<line x1="513.25" y1="299.34" x2="513.25" y2="308.75" stroke="#111" stroke-width="1" />
<line x1="510.75" y1="299.34" x2="515.75" y2="299.34" stroke="#111" stroke-width="1" />
<line x1="510.75" y1="308.75" x2="515.75" y2="308.75" stroke="#111" stroke-width="1" />
<line x1="531.95" y1="245.08" x2="531.95" y2="259.11" stroke="#111" stroke-width="1" />
<line x1="529.45" y1="245.08" x2="534.45" y2="245.08" stroke="#111" stroke-width="1" />
<line x1="529.45" y1="259.11" x2="534.45" y2="259.11" stroke="#111" stroke-width="1" />
<line x1="522.60" y1="352.30" x2="522.60" y2="355.80" stroke="#1c1c1c" stroke-width="1" />
<text x="522.60" y="365.20" font-size="10" text-anchor="middle" fill="#1a1a1a" font-weight="bold" >10</text>
<rect x="549.80" y="302.29" width="18.70" height="50.01" fill="#70a5c6" stroke="none" stroke-width="0" />
<rect x="568.50" y="248.40" width="18.70" height="103.90" fill="#ef6470" stroke="none" stroke-width="0" />
<line x1="559.15" y1="298.97" x2="559.15" y2="305.61" stroke="#111" stroke-width="1" />
<line x1="556.65" y1="298.97" x2="561.65" y2="298.97" stroke="#111" stroke-width="1" />
<line x1="556.65" y1="305.61" x2="561.65" y2="305.61" stroke="#111" stroke-width="1" />
<line x1="577.85" y1="240.56" x2="577.85" y2="256.25" stroke="#111" stroke-width="1" />
<line x1="575.35" y1="240.56" x2="580.35" y2="240.56" stroke="#111" stroke-width="1" />
<line x1="575.35" y1="256.25" x2="580.35" y2="256.25" stroke="#111" stroke-width="1" />
<line x1="568.50" y1="352.30" x2="568.50" y2="355.80" stroke="#1c1c1c" stroke-width="1" />
<text x="568.50" y="365.20" font-size="10" text-anchor="middle" fill="#1a1a1a" font-weight="bold" >20</text>
<rect x="595.70" y="302.01" width="18.70" height="50.29" fill="#70a5c6" stroke="none" stroke-width="0" />
<rect x="614.40" y="246.37" width="18.70" height="105.93" fill="#ef6470" stroke="none" stroke-width="0" />
<line x1="605.05" y1="299.52" x2="605.05" y2="304.50" stroke="#111" stroke-width="1" />
<line x1="602.55" y1="299.52" x2="607.55" y2="299.52" stroke="#111" stroke-width="1" />
<line x1="602.55" y1="304.50" x2="607.55" y2="304.50" stroke="#111" stroke-width="1" />
<line x1="623.75" y1="238.16" x2="623.75" y2="254.59" stroke="#111" stroke-width="1" />
<line x1="621.25" y1="238.16" x2="626.25" y2="238.16" stroke="#111" stroke-width="1" />
<line x1="621.25" y1="254.59" x2="626.25" y2="254.59" stroke="#111" stroke-width="1" />
<line x1="614.40" y1="352.30" x2="614.40" y2="355.80" stroke="#1c1c1c" stroke-width="1" />
<text x="614.40" y="365.20" font-size="10" text-anchor="middle" fill="#1a1a1a" font-weight="bold" >30</text>
<rect x="641.60" y="303.86" width="18.70" height="48.44" fill="#70a5c6" stroke="none" stroke-width="0" />
<rect x="660.30" y="249.23" width="18.70" height="103.07" fill="#ef6470" stroke="none" stroke-width="0" />
<line x1="650.95" y1="299.89" x2="650.95" y2="307.83" stroke="#111" stroke-width="1" />
<line x1="648.45" y1="299.89" x2="653.45" y2="299.89" stroke="#111" stroke-width="1" />
<line x1="648.45" y1="307.83" x2="653.45" y2="307.83" stroke="#111" stroke-width="1" />
<line x1="669.65" y1="244.34" x2="669.65" y2="254.12" stroke="#111" stroke-width="1" />
<line x1="667.15" y1="244.34" x2="672.15" y2="244.34" stroke="#111" stroke-width="1" />
<line x1="667.15" y1="254.12" x2="672.15" y2="254.12" stroke="#111" stroke-width="1" />
<line x1="660.30" y1="352.30" x2="660.30" y2="355.80" stroke="#1c1c1c" stroke-width="1" />
<text x="660.30" y="365.20" font-size="10" text-anchor="middle" fill="#1a1a1a" font-weight="bold" >40</text>
<rect x="499.8" y="204.5" width="183.99999999999994" height="147.8" fill="none" stroke="#1c1c1c" stroke-width="1.1"/>
<line x1="496.30" y1="352.30" x2="499.80" y2="352.30" stroke="#1c1c1c" stroke-width="1" />
<text x="495.00" y="355.50" font-size="10" text-anchor="end" fill="#1a1a1a" font-weight="bold" >0</text>
<line x1="496.30" y1="324.62" x2="499.80" y2="324.62" stroke="#1c1c1c" stroke-width="1" />
<text x="495.00" y="327.82" font-size="10" text-anchor="end" fill="#1a1a1a" font-weight="bold" >30</text>
<line x1="496.30" y1="296.94" x2="499.80" y2="296.94" stroke="#1c1c1c" stroke-width="1" />
<text x="495.00" y="300.14" font-size="10" text-anchor="end" fill="#1a1a1a" font-weight="bold" >60</text>
<line x1="496.30" y1="269.26" x2="499.80" y2="269.26" stroke="#1c1c1c" stroke-width="1" />
<text x="495.00" y="272.46" font-size="10" text-anchor="end" fill="#1a1a1a" font-weight="bold" >90</text>
<line x1="496.30" y1="241.58" x2="499.80" y2="241.58" stroke="#1c1c1c" stroke-width="1" />
<text x="495.00" y="244.78" font-size="10" text-anchor="end" fill="#1a1a1a" font-weight="bold" >120</text>
<line x1="496.30" y1="213.90" x2="499.80" y2="213.90" stroke="#1c1c1c" stroke-width="1" />
<text x="495.00" y="217.09" font-size="10" text-anchor="end" fill="#1a1a1a" font-weight="bold" >150</text>
<rect x="506.00" y="211.40" width="21.60" height="10.80" fill="#70a5c6" stroke="none" stroke-width="0" />
<rect x="506.00" y="224.30" width="21.60" height="10.30" fill="#ef6470" stroke="none" stroke-width="0" />
<text x="533.00" y="220.30" font-size="9.4" text-anchor="start" fill="#1a1a1a" font-weight="bold" >Saddle</text>
<text x="533.00" y="231.90" font-size="9.4" text-anchor="start" fill="#1a1a1a" font-weight="bold" >Hemisphere</text>
<text x="591.40" y="378.30" font-size="9.8" text-anchor="middle" fill="#1a1a1a" font-weight="bold" >θ (°)</text>
<text transform="translate(475.5,278.8) rotate(-90)" font-size="9.6" text-anchor="middle" font-weight="bold" fill="#1a1a1a">Rotational speed (r·min<tspan font-size="6.2" dy="-3.8">-1</tspan><tspan dy="3.8">)</tspan></text>
</svg>
</body></html>
